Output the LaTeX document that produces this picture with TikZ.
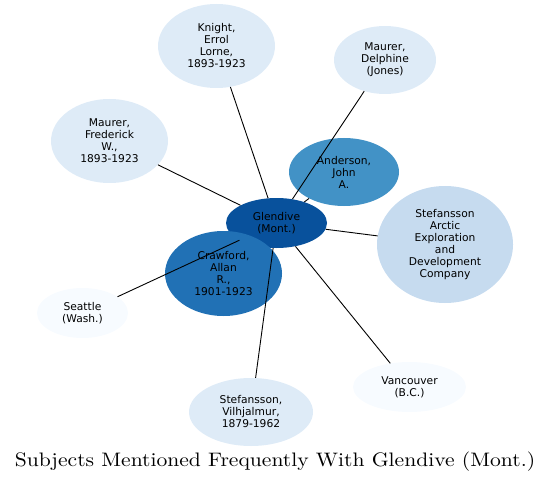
\documentclass[tikz,border=0pt]{standalone}
\usepackage{fontspec}
\newfontfamily\nodefont{DejaVu Sans}
\usetikzlibrary{shapes.geometric}
\definecolor{blueA}{HTML}{08519C}
\definecolor{blueB}{HTML}{2171B5}
\definecolor{blueC}{HTML}{4292C6}
\definecolor{blueD}{HTML}{C6DBEF}
\definecolor{blueE}{HTML}{DEEBF7}
\definecolor{blueF}{HTML}{F7FBFF}

\begin{document}
\begin{tikzpicture}[x=1pt, y=-1pt,
  every node/.style={font=\nodefont\fontsize{10.7}{12}\selectfont},
  subject/.style={ellipse, inner sep=0pt, align=center},
  link/.style={line width=0.9pt}]
  \useasboundingbox (0,0) rectangle (551,481);
  \node[subject, fill=blueA, minimum width=101pt, minimum height=50pt] (glendive) at (276.5,223) {Glendive\\(Mont.)};
  \node[subject, fill=blueE, minimum width=117pt, minimum height=84pt] (knight) at (216.5,46) {Knight,\\Errol\\Lorne,\\1893-1923};
  \node[subject, fill=blueE, minimum width=102pt, minimum height=68pt] (delphine) at (385,60) {Maurer,\\Delphine\\(Jones)};
  \node[subject, fill=blueE, minimum width=117pt, minimum height=84pt] (frederick) at (109.5,141) {Maurer,\\Frederick\\W.,\\1893-1923};
  \node[subject, fill=blueC, minimum width=110pt, minimum height=68pt] (anderson) at (344,172) {Anderson,\\John\\A.};
  \node[subject, fill=blueD, minimum width=136pt, minimum height=117pt] (arctic) at (445,244.5) {Stefansson\\Arctic\\Exploration\\and\\Development\\Company};
  \node[subject, fill=blueB, minimum width=117pt, minimum height=85pt] (crawford) at (223.5,273.5) {Crawford,\\Allan\\R.,\\1901-1923};
  \node[subject, fill=blueF, minimum width=91pt, minimum height=50pt] (seattle) at (82.5,313) {Seattle\\(Wash.)};
  \node[subject, fill=blueE, minimum width=124pt, minimum height=68pt] (vilhjalmur) at (251,412) {Stefansson,\\Vilhjalmur,\\1879-1962};
  \node[subject, fill=blueF, minimum width=113pt, minimum height=50pt] (vancouver) at (409.5,387) {Vancouver\\(B.C.)};
  % links from the centre
  \foreach \other in {knight, delphine, frederick, anderson, arctic, seattle, vilhjalmur, vancouver}
    \draw[link] (glendive) -- (\other);
  \node[font=\fontsize{10}{12}\selectfont, xscale=2.16, yscale=1.95, anchor=base] (title) at (275,466) {Subjects Mentioned Frequently With Glendive (Mont.)};
\end{tikzpicture}
\end{document}
